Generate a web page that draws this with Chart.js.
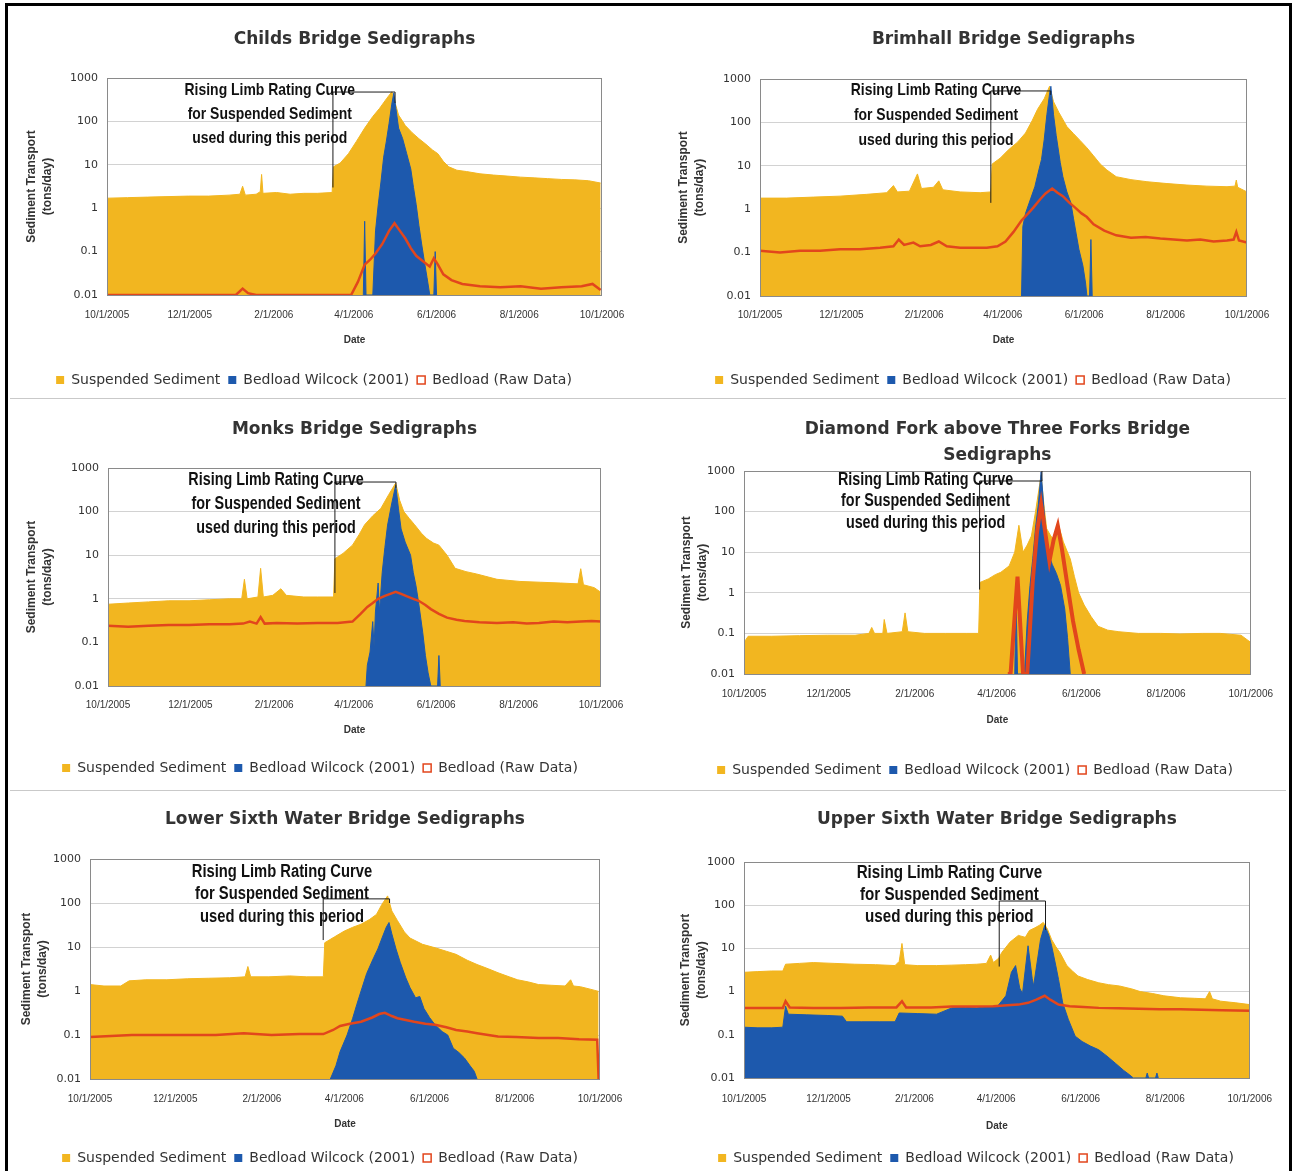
<!DOCTYPE html>
<html>
<head>
<meta charset="utf-8">
<title>Sedigraphs</title>
<script src="https://cdn.jsdelivr.net/npm/chart.js@4.4.1/dist/chart.umd.min.js"></script>
<style>
  body { margin: 0; background: #fff; }
  #sheet { position: relative; width: 1295px; height: 1171px; overflow: hidden; background: #fff; }
  .edge { position: absolute; left: 5px; top: 3px; width: 1281px; height: 1220px; border: 3px solid #000; border-bottom: none; }
  .rule { position: absolute; left: 10px; width: 1276px; height: 1px; background: #c9c9c9; }
</style>
</head>
<body>
<div id="sheet">
  <div class="edge"></div>
  <div class="rule" style="top:398px"></div>
  <div class="rule" style="top:790px"></div>
</div>
<script>
// x axis: days since 10/1/2005
var dateTicks = [0, 61, 123, 182, 243, 304, 365];
var dateLabels = ['10/1/2005', '12/1/2005', '2/1/2006', '4/1/2006', '6/1/2006', '8/1/2006', '10/1/2006'];
var decadeTicks = [0.01, 0.1, 1, 10, 100, 1000];
var seriesNames = ['Suspended Sediment', 'Bedload Wilcock (2001)', 'Bedload (Raw Data)'];
var noteLines = ['Rising Limb Rating Curve', 'for Suspended Sediment', 'used during this period'];

// [day, tons/day]
var childsSuspended = [[0,1.7],[15,1.75],[30,1.8],[45,1.85],[60,1.9],[75,1.9],[90,2.0],[98,2.1],[100,3.2],[102,2.0],[110,2.1],[113,2.4],[114,6.0],[115,2.2],[125,2.3],[135,2.1],[145,2.2],[155,2.2],[166,2.3],[167,9],[172,11],[178,18],[184,35],[190,70],[196,130],[201,200],[206,330],[210,480],[212,300],[215,140],[220,80],[225,55],[230,40],[235,30],[240,22],[244,18],[248,12],[252,9],[258,7.5],[265,7],[275,6.2],[285,5.8],[295,5.5],[305,5.2],[315,5],[325,4.8],[335,4.6],[345,4.5],[355,4.3],[364,3.8]];
var childsWilcock = [[189,0.01],[190,0.5],[191,0.01],[196,0.01],[198,0.3],[200,1.2],[202,4],[204,15],[206,35],[208,90],[210,250],[211.5,450],[213,200],[215,70],[218,40],[221,18],[224,8],[226,3],[228,1.2],[230,0.4],[232,0.15],[234,0.06],[236,0.025],[238,0.01],[241,0.01],[242,0.1],[243,0.01]];
var childsRaw = [[0,0.01],[95,0.01],[100,0.014],[104,0.011],[110,0.01],[180,0.01],[185,0.02],[190,0.05],[194,0.065],[198,0.09],[203,0.15],[208,0.3],[212,0.45],[216,0.3],[220,0.2],[224,0.12],[228,0.08],[233,0.06],[238,0.045],[241,0.07],[244,0.05],[248,0.03],[254,0.022],[262,0.018],[275,0.016],[290,0.015],[305,0.016],[320,0.014],[335,0.015],[350,0.016],[358,0.018],[364,0.013]];

var brimhallSuspended = [[0,1.8],[20,1.8],[40,1.9],[60,2.0],[80,2.2],[95,2.4],[100,3.5],[103,2.5],[112,2.6],[118,6.5],[121,3.0],[130,3.2],[134,4.5],[137,2.8],[150,2.5],[165,2.4],[173,2.5],[174,11],[180,15],[186,23],[193,35],[199,57],[204,110],[208,200],[213,350],[217,680],[220,300],[224,170],[230,80],[235,55],[240,38],[245,26],[250,17],[255,11],[260,8],[267,5.6],[278,4.8],[290,4.3],[305,3.9],[320,3.6],[335,3.4],[350,3.3],[356,3.4],[357,4.7],[358,3.2],[365,2.5]];
var brimhallWilcock = [[196,0.01],[197,0.4],[199,0.8],[203,1.8],[206,3.3],[209,8],[211,14],[213,40],[215,150],[217,450],[218,680],[220,150],[222,50],[225,12],[227,5.6],[230,2.5],[233,1.4],[235,0.6],[237,0.27],[239,0.12],[242,0.05],[244,0.02],[245,0.01],[247,0.01],[248,0.2],[249,0.01]];
var brimhallRaw = [[0,0.11],[15,0.1],[30,0.11],[45,0.11],[60,0.12],[75,0.12],[90,0.13],[100,0.14],[104,0.2],[108,0.15],[115,0.17],[120,0.14],[128,0.15],[134,0.18],[140,0.14],[150,0.13],[160,0.13],[170,0.13],[178,0.14],[184,0.18],[190,0.3],[196,0.55],[201,0.8],[205,1.1],[210,1.7],[214,2.3],[219,3.0],[223,2.4],[227,2.0],[232,1.4],[236,1.1],[241,0.8],[245,0.66],[250,0.45],[258,0.32],[267,0.25],[278,0.22],[289,0.23],[300,0.21],[310,0.2],[320,0.19],[330,0.2],[340,0.18],[350,0.19],[355,0.2],[357,0.3],[359,0.19],[365,0.17]];

var monksSuspended = [[0,0.75],[15,0.8],[30,0.85],[45,0.9],[60,0.9],[75,0.95],[90,1.0],[99,1.0],[101,2.8],[103,1.0],[111,1.1],[113,5.0],[115,1.1],[122,1.2],[128,1.7],[132,1.2],[145,1.1],[155,1.1],[167,1.1],[168,8.3],[174,11],[181,17],[186,30],[190,50],[196,80],[202,118],[208,250],[213,450],[216,180],[219,100],[223,70],[227,50],[232,32],[236,24],[241,19],[245,17],[251,10],[257,5],[265,4.2],[273,3.7],[288,2.8],[305,2.5],[320,2.4],[335,2.3],[348,2.2],[350,4.9],[352,2.1],[360,1.8],[365,1.4]];
var monksWilcock = [[191,0.01],[192,0.03],[194,0.06],[196,0.3],[197,0.08],[198,0.5],[200,2.3],[201,0.5],[203,4],[205,15],[207,49],[210,150],[213,400],[215,120],[217,40],[220,20],[224,10],[226,4],[228,2],[230,0.8],[233,0.17],[235,0.05],[237,0.02],[239,0.01],[244,0.01],[245,0.05],[246,0.01]];
var monksRaw = [[0,0.24],[15,0.23],[30,0.24],[45,0.25],[60,0.25],[75,0.26],[90,0.26],[100,0.27],[105,0.3],[110,0.27],[113,0.38],[116,0.27],[125,0.28],[140,0.27],[155,0.28],[170,0.28],[181,0.3],[187,0.45],[192,0.65],[196,0.8],[200,1.0],[205,1.17],[209,1.3],[213,1.45],[217,1.3],[221,1.15],[226,1.0],[230,0.9],[235,0.72],[239,0.58],[245,0.45],[251,0.37],[258,0.33],[264,0.31],[275,0.29],[288,0.28],[300,0.29],[310,0.27],[319,0.28],[330,0.3],[340,0.29],[350,0.3],[358,0.31],[365,0.3]];

var diamondSuspended = [[0,0.06],[3,0.085],[20,0.085],[40,0.088],[60,0.09],[80,0.09],[90,0.1],[92,0.14],[94,0.1],[100,0.1],[101,0.22],[103,0.1],[114,0.11],[116,0.32],[118,0.11],[130,0.1],[145,0.1],[160,0.1],[169,0.1],[170,1.8],[176,2.2],[181,2.8],[185,3.2],[191,4.6],[195,10],[198,46],[201,10],[204,15],[207,25],[210,100],[214,800],[216,150],[218,38],[221,25],[223,21],[226,55],[230,18],[235,6.8],[238,2.5],[241,1.0],[245,0.5],[250,0.26],[255,0.15],[262,0.12],[270,0.11],[284,0.1],[300,0.1],[314,0.097],[330,0.1],[343,0.1],[358,0.09],[365,0.06]];
var diamondWilcock = [[195,0.01],[196,0.7],[197,0.01],[202,0.01],[204,0.2],[206,1.5],[208,7],[210,40],[212,150],[214,950],[216,120],[218,20],[220,8],[222,5],[225,3],[228,1.5],[231,0.4],[233,0.08],[235,0.01]];
var diamondRaw = [[190,0.01],[192,0.01],[197,2.5],[201,0.01],[204,0.01],[208,2],[211,30],[214,150],[217,30],[220,6],[223,20],[226,45],[229,12],[233,1.5],[237,0.2],[241,0.04],[245,0.01]];

var lowerSuspended = [[0,1.4],[10,1.3],[22,1.3],[28,1.7],[40,1.8],[55,1.8],[70,1.9],[85,1.95],[100,2.0],[111,2.1],[113,3.6],[115,2.1],[128,2.1],[143,2.2],[155,2.1],[167,2.1],[168,12.5],[175,17],[182,23],[188,28],[194,33],[200,42],[205,55],[209,94],[213,145],[216,66],[220,40],[225,22],[229,16],[238,11.5],[247,9.6],[255,8],[262,6.8],[270,5],[277,4],[285,3.2],[292,2.6],[300,2.1],[306,1.8],[314,1.6],[321,1.4],[330,1.35],[340,1.3],[344,1.8],[346,1.3],[351,1.25],[358,1.1],[364,0.98]];
var lowerWilcock = [[172,0.01],[176,0.02],[179,0.042],[184,0.1],[188,0.24],[191,0.5],[194,1.0],[198,2.5],[203,5.7],[206,9],[209,16],[212,28],[214,36],[216,20],[219,9],[222,4.5],[226,2.0],[229,1.2],[233,0.7],[236,0.75],[239,0.4],[243,0.25],[247,0.17],[252,0.12],[256,0.1],[260,0.05],[264,0.04],[268,0.03],[272,0.02],[275,0.015],[277,0.01]];
var lowerRaw = [[0,0.09],[15,0.095],[30,0.1],[50,0.1],[70,0.1],[90,0.1],[110,0.11],[130,0.1],[150,0.105],[167,0.105],[174,0.13],[179,0.16],[186,0.18],[194,0.2],[202,0.25],[207,0.3],[211,0.32],[216,0.27],[220,0.24],[226,0.22],[232,0.2],[240,0.18],[247,0.17],[255,0.15],[262,0.13],[270,0.12],[277,0.11],[285,0.1],[292,0.093],[305,0.09],[321,0.085],[335,0.085],[350,0.08],[363,0.078],[364,0.01]];

var upperSuspended = [[0,2.8],[10,2.9],[20,3.0],[28,3.0],[30,4.3],[40,4.5],[50,4.7],[65,4.5],[80,4.3],[95,4.2],[109,4.0],[112,5],[114,13],[116,4.2],[125,4.0],[139,4.0],[150,4.1],[160,4.2],[168,4.3],[175,4.5],[178,7],[180,4.7],[184,6],[186,8],[192,14],[198,20],[203,18],[206,26],[210,30],[213,34],[216,40],[219,28],[222,16],[225,11],[228,8],[233,4],[237,3],[241,2.3],[248,1.9],[256,1.6],[263,1.45],[271,1.35],[280,1.15],[286,1.0],[295,0.9],[303,0.8],[315,0.72],[325,0.7],[333,0.68],[336,1.0],[338,0.68],[344,0.6],[355,0.55],[365,0.5]];
var upperWilcock = [[0,0.15],[10,0.145],[20,0.145],[28,0.15],[30,0.46],[32,0.3],[45,0.29],[60,0.28],[71,0.27],[74,0.2],[85,0.2],[98,0.2],[109,0.2],[112,0.32],[125,0.31],[139,0.3],[150,0.42],[160,0.43],[168,0.42],[176,0.45],[183,0.46],[189,0.8],[193,2.8],[196,4],[199,1.2],[201,0.9],[205,11.5],[208,2],[209,1.35],[212,6],[214,16],[217,34],[220,20],[222,11.5],[225,4],[227,1.9],[230,0.55],[234,0.23],[239,0.093],[244,0.07],[250,0.055],[256,0.045],[262,0.032],[268,0.022],[274,0.015],[278,0.012],[281,0.01],[290,0.01],[291,0.013],[292,0.01],[297,0.01],[298,0.013],[299,0.01]];
var upperRaw = [[0,0.42],[15,0.42],[28,0.42],[30,0.6],[33,0.43],[50,0.42],[70,0.42],[90,0.43],[110,0.43],[114,0.6],[117,0.43],[135,0.43],[150,0.45],[165,0.45],[180,0.46],[190,0.48],[198,0.5],[205,0.55],[211,0.65],[217,0.8],[221,0.65],[227,0.5],[235,0.46],[245,0.44],[256,0.42],[270,0.41],[285,0.4],[300,0.39],[315,0.39],[330,0.38],[345,0.37],[365,0.36]];

var sans = '"Liberation Sans", Arial, Helvetica, sans-serif';
var wide = '"DejaVu Sans", Verdana, sans-serif';
var colors = { suspended: '#F2B620', wilcock: '#1D59AD', raw: '#E2461C', grid: '#d2d2d2', frame: '#8a8a8a' };

Chart.defaults.font.family = sans;
Chart.defaults.color = '#333';

var panels = [
  { title: 'Childs Bridge Sedigraphs', series: [childsSuspended, childsWilcock, childsRaw], rawWidth: 2.5,
    box: { x: 12, y: 12, w: 633 }, plot: { l: 107, r: 602, t: 78, b: 295 },
    titleY: 40, titleLH: 20, yTitleX: 32, tickY: 315, dateY: 340, legendY: 380, legendX: 314,
    note: { day: 120, value: 530, size: 17, gap: 24, top: 475, left: [166.6, 3], right: [212.4, 265] } },
  { title: 'Brimhall Bridge Sedigraphs', series: [brimhallSuspended, brimhallWilcock, brimhallRaw], rawWidth: 2.5,
    box: { x: 655, y: 12, w: 632 }, plot: { l: 760, r: 1247, t: 79, b: 296 },
    titleY: 40, titleLH: 20, yTitleX: 684, tickY: 315, dateY: 340, legendY: 380, legendX: 973,
    note: { day: 131.9, value: 558, size: 17, gap: 25, top: 530, left: [173, 1.4], right: [217.9, 430] } },
  { title: 'Monks Bridge Sedigraphs', series: [monksSuspended, monksWilcock, monksRaw], rawWidth: 2.5,
    box: { x: 12, y: 402, w: 633 }, plot: { l: 108, r: 601, t: 468, b: 686 },
    titleY: 430, titleLH: 20, yTitleX: 32, tickY: 705, dateY: 730, legendY: 768, legendX: 320,
    note: { day: 124.4, value: 531, size: 17.5, gap: 24, top: 477, left: [168, 1.36], right: [213.2, 350] } },
  { title: ['Diamond Fork above Three Forks Bridge', 'Sedigraphs'], series: [diamondSuspended, diamondWilcock, diamondRaw], rawWidth: 4,
    box: { x: 655, y: 402, w: 632 }, plot: { l: 744, r: 1256, t: 471, b: 674 },
    titleY: 430, titleLH: 26, yTitleX: 687, tickY: 694, dateY: 720, legendY: 770, legendX: 975,
    note: { day: 130.8, value: 600, size: 17.5, gap: 21.5, top: 567, left: [169.7, 1.2], right: [214.6, 1000] } },
  { title: 'Lower Sixth Water Bridge Sedigraphs', series: [lowerSuspended, lowerWilcock, lowerRaw], rawWidth: 2.5,
    box: { x: 12, y: 795, w: 633 }, plot: { l: 90, r: 600, t: 859, b: 1079 },
    titleY: 820, titleLH: 20, yTitleX: 27, tickY: 1099, dateY: 1124, legendY: 1158, legendX: 320,
    note: { day: 137.4, value: 507, size: 18, gap: 22.5, top: 124, left: [166.9, 14.4], right: [214.4, 100] } },
  { title: 'Upper Sixth Water Bridge Sedigraphs', series: [upperSuspended, upperWilcock, upperRaw], rawWidth: 2.5,
    box: { x: 655, y: 795, w: 632 }, plot: { l: 744, r: 1254, t: 862, b: 1078 },
    titleY: 820, titleLH: 20, yTitleX: 686, tickY: 1099, dateY: 1126, legendY: 1158, legendX: 976,
    note: { day: 148.2, value: 556, size: 18.5, gap: 22, top: 125, left: [184.2, 3.8], right: [217.6, 26.7] } }
];

function toPoints(pairs) {
  return pairs.map(function(p) { return { x: p[0], y: p[1] }; });
}

// plot frame plus the bracketed rating-curve note
function notePlugin(note) {
  return {
    id: 'bracketNote',
    afterDatasetsDraw: function(chart) {
      var ctx = chart.ctx, a = chart.chartArea;
      var xs = chart.scales.x, ys = chart.scales.y;
      ctx.save();
      ctx.strokeStyle = colors.frame;
      ctx.lineWidth = 1;
      ctx.strokeRect(Math.round(a.left) + 0.5, Math.round(a.top) + 0.5,
        Math.round(a.right - a.left) - 1, Math.round(a.bottom - a.top));

      var lx = xs.getPixelForValue(note.left[0]);
      var rx = xs.getPixelForValue(note.right[0]);
      var ty = ys.getPixelForValue(note.top);
      ctx.strokeStyle = '#1b1b1b';
      ctx.beginPath();
      ctx.moveTo(lx, ys.getPixelForValue(note.left[1]));
      ctx.lineTo(lx, ty);
      ctx.lineTo(rx, ty);
      ctx.lineTo(rx, ys.getPixelForValue(note.right[1]));
      ctx.stroke();

      // narrow bold face: regular bold squeezed horizontally
      ctx.font = 'bold ' + note.size + 'px ' + sans;
      ctx.fillStyle = '#111';
      ctx.textAlign = 'center';
      ctx.textBaseline = 'middle';
      var cx = xs.getPixelForValue(note.day);
      var cy = ys.getPixelForValue(note.value);
      noteLines.forEach(function(t, i) {
        ctx.save();
        ctx.translate(cx, cy + i * note.gap);
        ctx.scale(0.82, 1);
        ctx.fillText(t, 0, 0);
        ctx.restore();
      });
      ctx.restore();
    }
  };
}

function buildChart(p) {
  var titleLines = Array.isArray(p.title) ? p.title.length : 1;
  var titlePadTop = p.titleY - p.box.y - p.titleLH / 2;
  var titlePadBottom = (p.plot.t - p.box.y) - titlePadTop - titleLines * p.titleLH;

  var legendSize = 14, legendPad = 8, markSize = 8;
  var itemH = Math.max(legendSize, markSize);
  var legendTop = p.legendY - legendPad - itemH / 2;
  var height = Math.ceil(legendTop + itemH + legendPad + 10 - p.box.y);

  var padL = 2 * p.legendX - p.plot.r - p.box.x;
  var padR = p.box.x + p.box.w - p.plot.r;
  var axisW = p.plot.l - p.box.x - padL;
  var axisH = legendTop - p.plot.b;

  var cv = document.createElement('canvas');
  cv.width = p.box.w;
  cv.height = height;
  cv.style.cssText = 'position:absolute;left:' + p.box.x + 'px;top:' + p.box.y + 'px;';
  document.getElementById('sheet').appendChild(cv);

  new Chart(cv, {
    type: 'line',
    data: {
      datasets: [
        { label: seriesNames[0], data: toPoints(p.series[0]), fill: 'start', order: 3,
          backgroundColor: colors.suspended, borderColor: colors.suspended, borderWidth: 1 },
        { label: seriesNames[1], data: toPoints(p.series[1]), fill: 'start', order: 2,
          backgroundColor: colors.wilcock, borderColor: colors.wilcock, borderWidth: 1 },
        { label: seriesNames[2], data: toPoints(p.series[2]), fill: false, order: 1,
          backgroundColor: '#fff', borderColor: colors.raw, borderWidth: p.rawWidth }
      ]
    },
    options: {
      responsive: false,
      animation: false,
      events: [],
      elements: { point: { radius: 0 }, line: { tension: 0 } },
      layout: { autoPadding: false, padding: { left: padL, right: padR, top: 0, bottom: 0 } },
      scales: {
        x: {
          type: 'linear', min: 0, max: 365,
          grid: { display: false, drawTicks: false },
          border: { display: false },
          afterBuildTicks: function(s) { s.ticks = dateTicks.map(function(v) { return { value: v }; }); },
          afterFit: function(s) { s.height = axisH; },
          ticks: {
            autoSkip: false, maxRotation: 0, padding: p.tickY - p.plot.b - 6,
            font: { size: 10, lineHeight: 1.2 }, color: '#333',
            callback: function(v) { return dateLabels[dateTicks.indexOf(v)]; }
          },
          title: { display: true, text: 'Date', color: '#333',
            font: { size: 10, weight: 'bold', lineHeight: 1.2 },
            padding: { top: 0, bottom: legendTop - p.dateY - 6 } }
        },
        y: {
          type: 'logarithmic', min: 0.01, max: 1000,
          grid: { color: colors.grid, drawTicks: false },
          border: { display: false },
          afterBuildTicks: function(s) { s.ticks = decadeTicks.map(function(v) { return { value: v }; }); },
          afterFit: function(s) { s.width = axisW; },
          ticks: {
            padding: 9, font: { family: wide, size: 11 }, color: '#333',
            callback: function(v) { return String(v); }
          },
          title: { display: true, text: ['Sediment Transport', '(tons/day)'], color: '#333',
            font: { size: 12, weight: 'bold', lineHeight: 16 / 12 },
            padding: { top: p.yTitleX - (p.box.x + padL) - 8, bottom: 0 } }
        }
      },
      plugins: {
        tooltip: { enabled: false },
        title: {
          display: true, text: p.title, fullSize: false, color: '#333',
          font: { family: wide, size: 17, weight: 'bold', lineHeight: p.titleLH / 17 },
          padding: { top: titlePadTop, bottom: titlePadBottom }
        },
        legend: {
          position: 'bottom',
          labels: {
            font: { family: wide, size: legendSize }, color: '#333',
            boxWidth: markSize, boxHeight: markSize, padding: legendPad,
            sort: function(a, b) { return a.datasetIndex - b.datasetIndex; },
            generateLabels: function(chart) {
              var items = Chart.defaults.plugins.legend.labels.generateLabels(chart);
              items.forEach(function(it) { it.lineWidth = it.datasetIndex === 2 ? 1.5 : 0; });
              return items;
            }
          }
        }
      }
    },
    plugins: [notePlugin(p.note)]
  });
}

panels.forEach(buildChart);
</script>
</body>
</html>
